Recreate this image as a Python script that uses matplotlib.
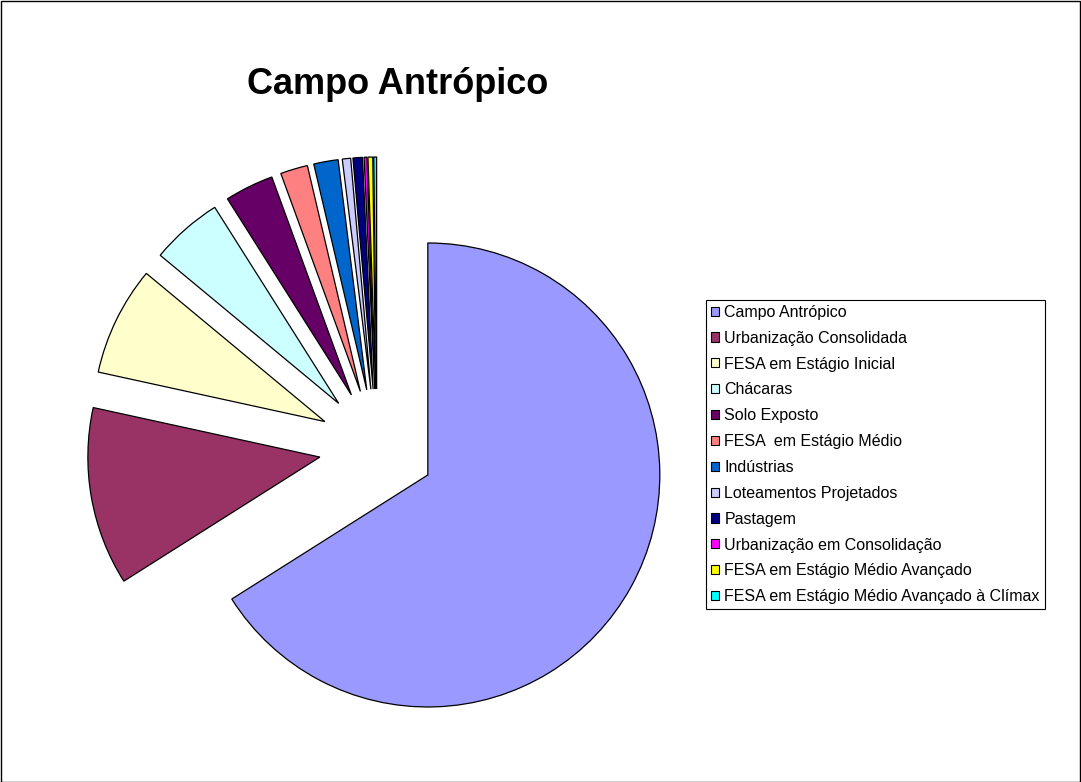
import matplotlib
matplotlib.use("Agg")
import matplotlib.pyplot as plt
from matplotlib.patches import Patch, Rectangle

plt.rcParams['font.family'] = ['Liberation Sans', 'DejaVu Sans']

categories = [
    "Campo Antrópico",
    "Urbanização Consolidada",
    "FESA em Estágio Inicial",
    "Chácaras",
    "Solo Exposto",
    "FESA  em Estágio Médio",
    "Indústrias",
    "Loteamentos Projetados",
    "Pastagem",
    "Urbanização em Consolidação",
    "FESA em Estágio Médio Avançado",
    "FESA em Estágio Médio Avançado à Clímax",
]
shares = [66.0, 12.4, 7.6, 5.0, 3.4, 1.9, 1.7, 0.58, 0.66, 0.2, 0.33, 0.2]
colors = ["#9999FF", "#993366", "#FFFFCC", "#CCFFFF", "#660066", "#FF8080",
          "#0066CC", "#CCCCFF", "#000080", "#FF00FF", "#FFFF00", "#00FFFF"]

W, H = 1081, 782
fig = plt.figure(figsize=(W / 100, H / 100), dpi=100)

# pie centre and radius in pixels
cx, cy, r = 377, 447, 232
ax = fig.add_axes([0, 0, 1, 1])

ax.pie(shares, colors=colors, explode=[0.25] * len(shares), startangle=90,
       counterclock=False, radius=1.0,
       wedgeprops=dict(edgecolor="black", linewidth=0.9))
ax.set_xlim(-cx / r, (W - cx) / r)
ax.set_ylim(-(H - cy) / r, cy / r)
ax.axis("off")

fig.text(398 / W, 1 - 85 / H, "Campo Antrópico", ha="center", va="center",
         fontsize=26, fontweight="bold")

handles = [Patch(facecolor=c, edgecolor="black", linewidth=0.8) for c in colors]
leg = fig.legend(handles, categories, loc="upper left",
                 bbox_to_anchor=(706 / W, 1 - 300 / H), borderaxespad=0,
                 fontsize=11.5, frameon=True, fancybox=False, shadow=False,
                 framealpha=1, handlelength=0.5, handleheight=0.5,
                 handletextpad=0.35, labelspacing=0.68, borderpad=0.3)
leg.get_frame().set_edgecolor("black")
leg.get_frame().set_linewidth(0.8)

# outer border of the chart area
fig.patches.append(Rectangle((0.5 / W, 0.5 / H), 1 - 1.5 / W, 1 - 1.5 / H,
                             transform=fig.transFigure, fill=False,
                             edgecolor="black", linewidth=1.0))

fig.savefig("out.png", dpi=100)
